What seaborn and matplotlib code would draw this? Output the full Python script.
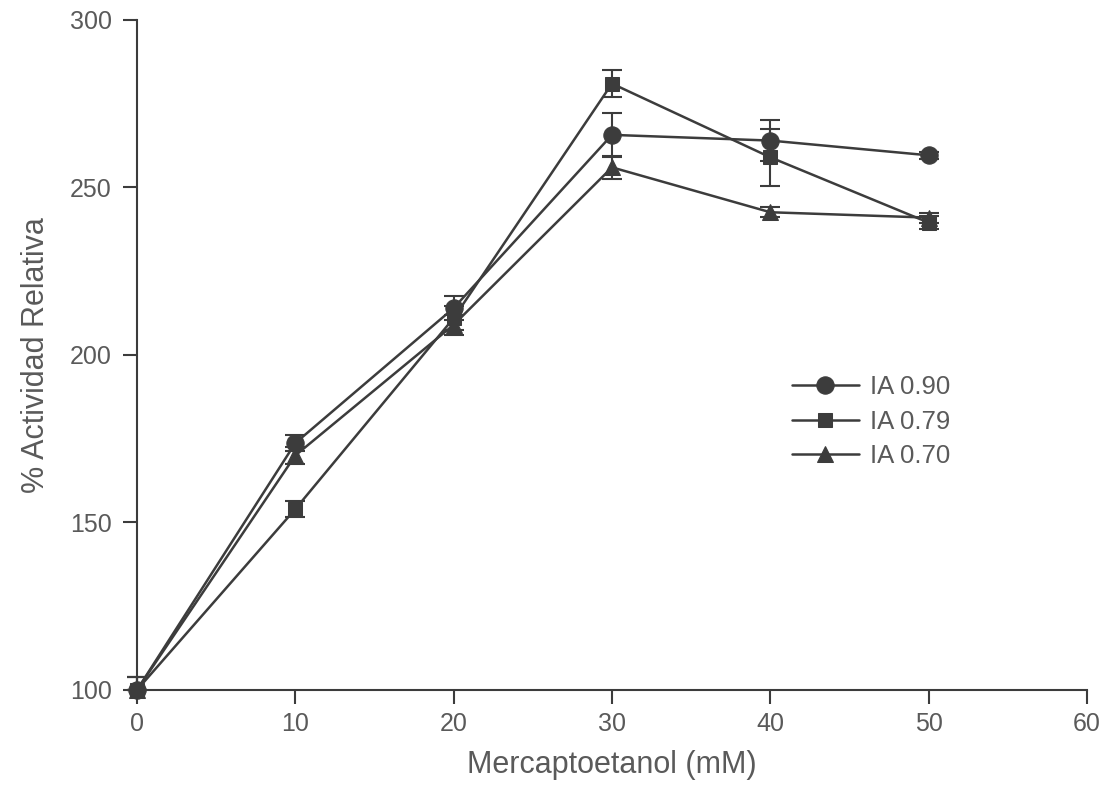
import matplotlib
matplotlib.use("Agg")
import matplotlib.pyplot as plt
import seaborn as sns
import numpy as np

sns.set_theme(style="ticks")
plt.rcParams['font.family'] = ['Liberation Sans', 'DejaVu Sans']

x = [0, 10, 20, 30, 40, 50]
ia090 = [100, 173.7, 214, 265.7, 264, 259.6]
ia090_lo = [0, 2.5, 3.5, 6.5, 6, 1]
ia090_hi = [4, 2.5, 3.5, 6.5, 6, 1]
ia079 = [100, 154, 211, 281, 259, 239.5]
ia079_lo = [0, 2.5, 3.5, 4, 8.5, 2]
ia079_hi = [4, 2.5, 3.5, 4, 8.5, 2]
ia070 = [100, 170, 209, 256, 242.6, 241]
ia070_lo = [0, 2.5, 3, 3.5, 1.5, 1.5]
ia070_hi = [4, 2.5, 3, 3.5, 1.5, 1.5]
labels = ["IA 0.90", "IA 0.79", "IA 0.70"]
markers = ["o", "s", "^"]
msizes = [12.5, 10.5, 12]

col = "#3c3c3c"
txt = "#5a5a5a"

fig = plt.figure(figsize=(11.11, 8.05), dpi=100)
ax = fig.add_axes([0.1233, 0.1429, 0.8551, 0.8323])

series = [(ia090, ia090_lo, ia090_hi), (ia079, ia079_lo, ia079_hi), (ia070, ia070_lo, ia070_hi)]
for (ys, lo, hi), lab, m, ms in zip(series, labels, markers, msizes):
    eb = ax.errorbar(x, ys, yerr=[lo, hi], fmt='none', ecolor=col, elinewidth=1.5, capsize=7, capthick=1.5, zorder=2)
    for art in list(eb.lines[1]) + list(eb.lines[2]):
        art.set_clip_on(False)
    sns.lineplot(x=x, y=ys, ax=ax, color=col, marker=m, markersize=ms,
                 markeredgecolor=col, linewidth=1.8, label=lab, zorder=3, clip_on=False)

ax.set_xlim(0, 60)
ax.set_ylim(100, 300)
ax.set_xticks([0, 10, 20, 30, 40, 50, 60])
ax.set_yticks([100, 150, 200, 250, 300])
ax.spines['top'].set_visible(False)
ax.spines['right'].set_visible(False)
for s in ['left', 'bottom']:
    ax.spines[s].set_color(col)
    ax.spines[s].set_linewidth(1.5)
ax.tick_params(axis='both', direction='out', length=10, width=1.5, color=col,
               labelsize=18, labelcolor=txt, pad=8)
ax.tick_params(axis='x', pad=6)
ax.set_xlabel("Mercaptoetanol (mM)", fontsize=22, color=txt, labelpad=10)
ax.set_ylabel("% Actividad Relativa", fontsize=22, color=txt, labelpad=14)

leg = ax.legend(loc='upper left', bbox_to_anchor=(0.665, 0.505), frameon=False, fontsize=18.5,
                handlelength=2.6, labelspacing=0.42, handletextpad=0.45, labelcolor=txt)

fig.savefig("out.png", dpi=100)
